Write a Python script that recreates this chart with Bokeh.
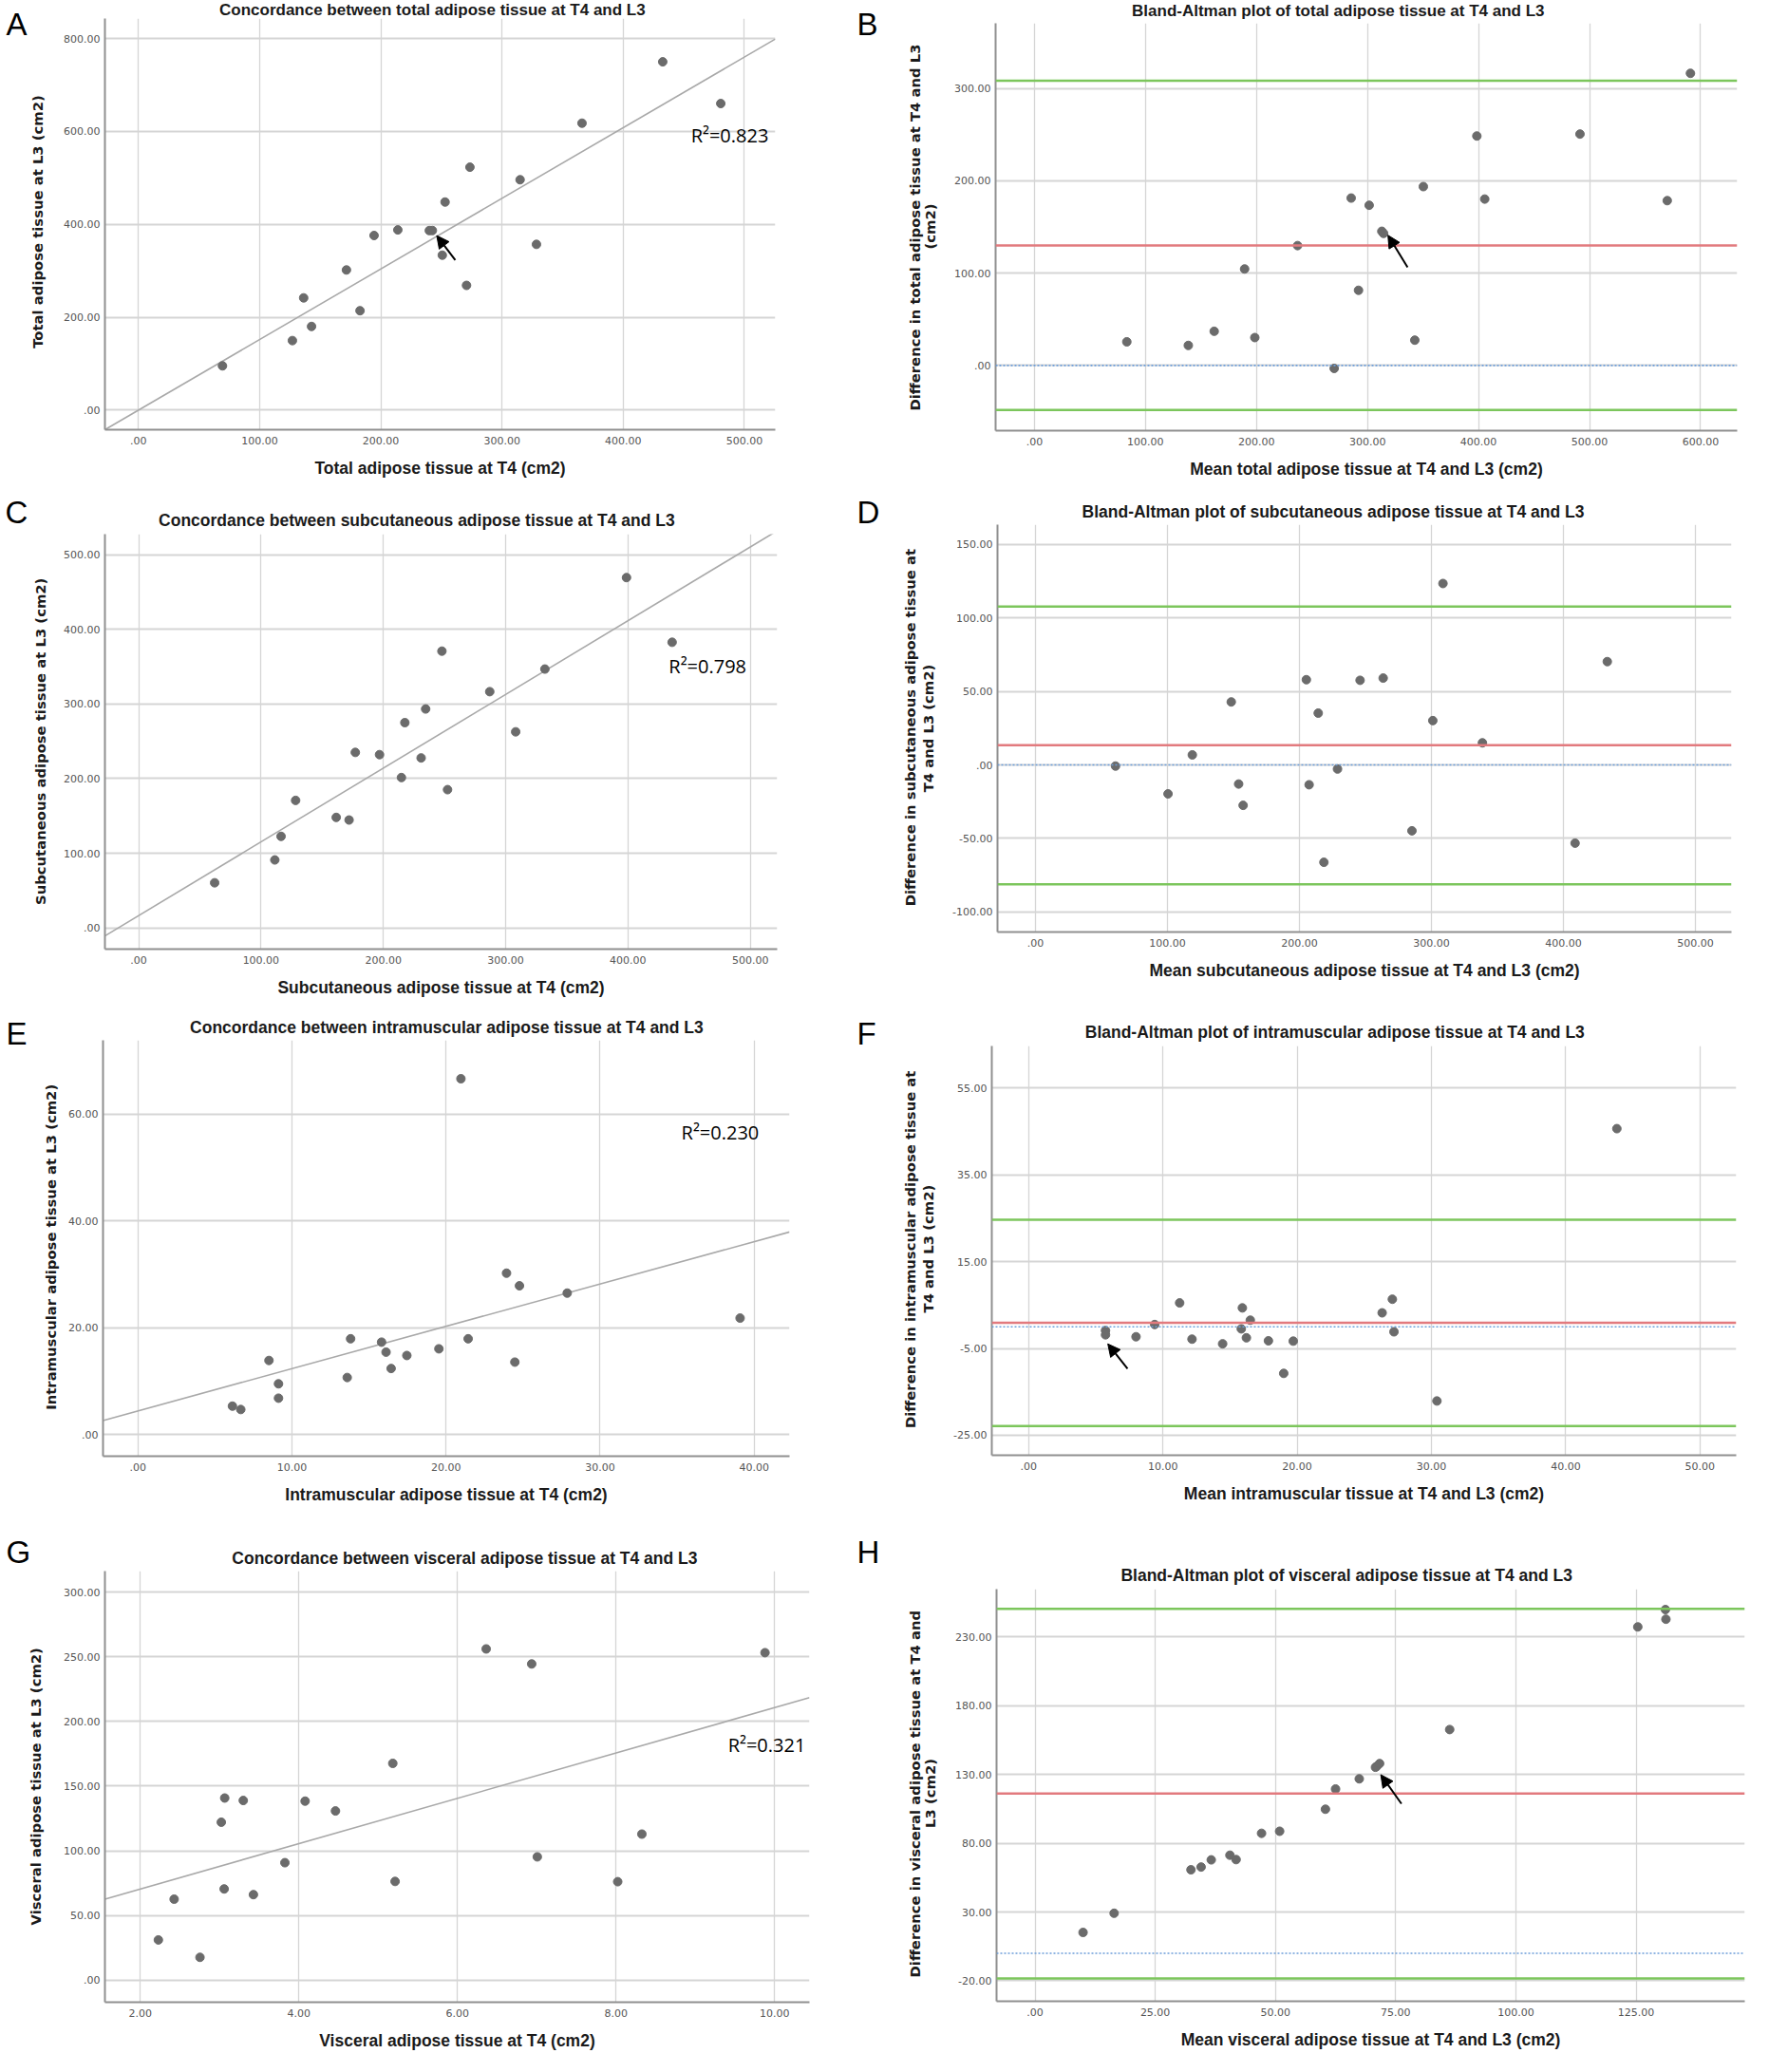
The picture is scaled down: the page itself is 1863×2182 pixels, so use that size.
import numpy as np
from bokeh.plotting import figure
from bokeh.layouts import column, row
from bokeh.models import Range1d, FixedTicker, Label, Span, Arrow, NormalHead
from bokeh.embed import file_html
from bokeh.resources import INLINE
from bokeh.core.properties import value

# ---------------- data ----------------
# A: total adipose tissue, T4 (x) vs L3 (y)
A_x = [69.3, 127.0, 136.3, 142.8, 171.6, 182.8, 194.4, 214.0, 240.0, 242.5, 250.7, 253.0, 270.7, 273.5, 314.9, 328.4, 366.0, 432.6, 480.5]
A_y = [95.4, 149.8, 241.7, 180.2, 301.8, 214.1, 376.0, 388.0, 386.6, 386.6, 333.6, 448.0, 268.6, 523.0, 496.0, 356.9, 617.7, 749.8, 660.0]
A_fit = [0.0, 1.52]            # intercept, slope
A_r2 = "R\u00b2=0.823"

# B: Bland-Altman total
B_mean = [83.2, 138.6, 161.9, 189.3, 198.5, 237.0, 270.0, 285.3, 291.9, 301.5, 312.9, 314.5, 342.6, 350.3, 398.5, 405.6, 491.4, 570.0, 590.9]
B_diff = [25.6, 21.7, 37.0, 104.5, 30.2, 129.8, -3.2, 181.3, 81.4, 173.5, 145.3, 143.0, 27.4, 193.7, 248.5, 180.2, 250.6, 178.5, 316.4]
B_lines = [130.0, 308.3, -48.3]   # bias, upper LoA, lower LoA

# C: subcutaneous
C_x = [62.1, 111.3, 116.4, 128.3, 161.5, 172.0, 177.1, 196.9, 214.8, 217.6, 230.9, 234.6, 247.9, 252.5, 287.0, 308.2, 332.1, 398.8, 436.1]
C_y = [60.4, 91.0, 122.6, 170.8, 148.0, 144.5, 235.1, 232.1, 201.4, 275.0, 227.7, 293.3, 370.8, 185.2, 316.5, 262.7, 346.8, 469.4, 382.7]
C_fit = [16.4, 0.988]
C_r2 = "R\u00b2=0.798"

# D: Bland-Altman subcutaneous
D_mean = [60.7, 100.5, 118.9, 148.4, 154.0, 157.4, 205.3, 207.4, 214.3, 218.6, 228.9, 246.0, 263.5, 285.3, 301.1, 308.8, 338.7, 408.9, 433.3]
D_diff = [-0.8, -19.7, 6.8, 42.8, -13.0, -27.5, 57.9, -13.5, 35.2, -66.2, -2.8, 57.5, 59.0, -44.8, 30.1, 123.3, 15.0, -53.2, 70.2]
D_lines = [13.4, 107.7, -81.1]

# E: intramuscular
E_x = [6.14, 6.68, 8.51, 9.13, 9.13, 13.59, 13.81, 15.82, 16.11, 16.44, 17.46, 19.54, 20.97, 21.44, 23.93, 24.47, 24.77, 27.87, 39.09]
E_y = [5.31, 4.68, 13.86, 9.49, 6.80, 10.67, 17.92, 17.29, 15.42, 12.36, 14.79, 16.04, 66.6, 17.92, 30.2, 13.55, 27.84, 26.47, 21.79]
E_fit = [4.41, 0.792]
E_r2 = "R\u00b2=0.230"

# F: Bland-Altman intramuscular
F_mean = [5.73, 5.73, 8.0, 9.39, 11.25, 12.17, 14.45, 15.84, 15.92, 16.22, 16.51, 17.86, 19.0, 19.71, 26.33, 27.09, 27.21, 30.41, 43.81]
F_diff = [-0.86, -1.85, -2.3, 0.52, 5.5, -2.85, -3.92, -0.48, 4.35, -2.54, 1.52, -3.23, -10.74, -3.31, 3.21, 6.35, -1.16, -17.1, 45.65]
F_lines = [0.9, 24.66, -22.85]

# G: visceral
G_x = [2.227, 2.426, 2.752, 3.021, 3.057, 3.064, 3.298, 3.426, 3.823, 4.078, 4.461, 5.184, 5.213, 6.362, 6.936, 7.007, 8.021, 8.326, 9.879]
G_y = [31.05, 62.6, 17.6, 122.1, 70.5, 140.8, 138.9, 66.1, 90.8, 138.4, 130.8, 167.6, 76.3, 256.1, 244.5, 95.3, 76.1, 112.9, 253.2]
G_fit = [35.4, 17.53]
G_r2 = "R\u00b2=0.321"

# H: Bland-Altman visceral
H_mean = [9.99, 16.45, 32.43, 34.54, 36.65, 40.53, 41.82, 47.11, 50.87, 60.39, 62.5, 67.43, 70.8, 71.08, 71.66, 86.23, 125.35, 131.1, 131.2]
H_diff = [15.15, 29.1, 60.7, 62.7, 67.9, 71.3, 68.1, 87.2, 88.7, 104.7, 119.4, 126.8, 135.2, 135.9, 137.9, 162.6, 237.2, 249.8, 242.8]
H_lines = [116.1, 250.3, -18.3]

# arrows (tail x, tail y, tip x, tip y) in data units
A_arrow = [261.4, 322.9, 246.1, 375.8]
B_arrow = [336.1, 106.3, 318.4, 141.1]
F_arrow = [7.37, -9.68, 5.9, -3.93]
H_arrow = [76.2, 108.7, 71.9, 129.8]

# ticks and tick labels
A_xt = [0, 100, 200, 300, 400, 500]; A_xl = [".00", "100.00", "200.00", "300.00", "400.00", "500.00"]
A_yt = [0, 200, 400, 600, 800]; A_yl = [".00", "200.00", "400.00", "600.00", "800.00"]
B_xt = [0, 100, 200, 300, 400, 500, 600]; B_xl = [".00", "100.00", "200.00", "300.00", "400.00", "500.00", "600.00"]
B_yt = [0, 100, 200, 300]; B_yl = [".00", "100.00", "200.00", "300.00"]
C_xt = [0, 100, 200, 300, 400, 500]; C_xl = [".00", "100.00", "200.00", "300.00", "400.00", "500.00"]
C_yt = [0, 100, 200, 300, 400, 500]; C_yl = [".00", "100.00", "200.00", "300.00", "400.00", "500.00"]
D_xt = [0, 100, 200, 300, 400, 500]; D_xl = [".00", "100.00", "200.00", "300.00", "400.00", "500.00"]
D_yt = [-100, -50, 0, 50, 100, 150]; D_yl = ["-100.00", "-50.00", ".00", "50.00", "100.00", "150.00"]
E_xt = [0, 10, 20, 30, 40]; E_xl = [".00", "10.00", "20.00", "30.00", "40.00"]
E_yt = [0, 20, 40, 60]; E_yl = [".00", "20.00", "40.00", "60.00"]
F_xt = [0, 10, 20, 30, 40, 50]; F_xl = [".00", "10.00", "20.00", "30.00", "40.00", "50.00"]
F_yt = [-25, -5, 15, 35, 55]; F_yl = ["-25.00", "-5.00", "15.00", "35.00", "55.00"]
G_xt = [2, 4, 6, 8, 10]; G_xl = ["2.00", "4.00", "6.00", "8.00", "10.00"]
G_yt = [0, 50, 100, 150, 200, 250, 300]; G_yl = [".00", "50.00", "100.00", "150.00", "200.00", "250.00", "300.00"]
H_xt = [0, 25, 50, 75, 100, 125]; H_xl = [".00", "25.00", "50.00", "75.00", "100.00", "125.00"]
H_yt = [-20, 30, 80, 130, 180, 230]; H_yl = ["-20.00", "30.00", "80.00", "130.00", "180.00", "230.00"]

# ---------------- styling ----------------
PT_COLOR = "#6b6b6b"
FIT_COLOR = "#a9a9a9"
RED = "#e27a7e"
GREEN = "#7cc65c"
BLUE = "#6d9fda"
GRID = "#d5d5d5"
AXIS = "#909090"
TITLE_FONT = "Liberation Sans"
YLAB_FONT = "DejaVu Sans"
TICK_FONT = "DejaVu Sans"
TXT = "#1a1a1a"

# page geometry (page px, reference coordinates)
ROWS = [(8, 510), (518, 550), (1068, 537), (1605, 569)]
TITLE_SIZES = ["17px", "17.5px", "17.5px", "17.5px"]
STRIP_L = (8, 64)      # x, width
MAIN_L = (72, 823)
STRIP_R = (895, 105)
MAIN_R = (1000, 855)


def bare_fig(W, H):
    f = figure(width=W, height=H, x_range=Range1d(0, W), y_range=Range1d(0, H), title=None,
               output_backend="svg", toolbar_location=None,
               min_border_left=0, min_border_right=0, min_border_top=0, min_border_bottom=0,
               x_axis_location=None, y_axis_location=None,
               outline_line_color=None, background_fill_color="white", border_fill_color="white")
    f.grid.visible = False
    return f


def make_header(fig_x, fig_y, W, hh, title, tcenter, size):
    h = bare_fig(W, hh)
    h.text(x=[tcenter[0] - fig_x], y=[hh - (tcenter[1] - fig_y)], text=[title],
           text_font=value(TITLE_FONT), text_font_size=value(size), text_font_style="bold",
           text_align="center", text_baseline="middle", text_color=TXT)
    return h


def make_strip(fig_x, fig_y, W, H, letter, letter_pos, ylabs, ylpos):
    s = bare_fig(W, H)
    s.text(x=[letter_pos[0] - fig_x], y=[H - (letter_pos[1] - fig_y)], text=[letter],
           text_font=value("Liberation Sans"), text_font_size=value("33px"),
           text_align="left", text_baseline="alphabetic", text_color="black")
    for txt, (px, py) in zip(ylabs, ylpos):
        s.text(x=[px - fig_x], y=[H - (py - fig_y)], text=[txt], angle=np.pi / 2,
               text_font=value(YLAB_FONT), text_font_size=value("14.8px"), text_font_style="bold",
               text_align="center", text_baseline="middle", text_color=TXT)
    return s


def make_panel(fig_x, fig_y, W, H, frame, xr, yr, xt, xl, yt, yl, xlab):
    fl, ft, fr, fb = frame
    bl = int(round(fl - fig_x)); bt = max(0, int(round(ft - fig_y)))
    br = int(round(fig_x + W - fr)); bb = int(round(fig_y + H - fb))
    p = figure(width=W, height=H, x_range=Range1d(*xr), y_range=Range1d(*yr), title=None,
               output_backend="svg", toolbar_location=None,
               min_border_left=bl, min_border_right=br, min_border_top=bt, min_border_bottom=bb,
               outline_line_color=None, background_fill_color="white", border_fill_color="white")
    xtick = FixedTicker(ticks=xt); ytick = FixedTicker(ticks=yt)
    p.xaxis.ticker = xtick; p.yaxis.ticker = ytick
    p.xgrid.ticker = xtick; p.ygrid.ticker = ytick
    p.xaxis.major_label_overrides = dict(zip(xt, xl))
    p.yaxis.major_label_overrides = dict(zip(yt, yl))
    for ax in (p.xaxis, p.yaxis):
        ax.axis_line_color = AXIS
        ax.axis_line_width = 2
        ax.major_tick_line_color = None
        ax.minor_tick_line_color = None
        ax.major_tick_out = 0
        ax.major_tick_in = 0
        ax.major_label_text_font = TICK_FONT
        ax.major_label_text_font_size = "11px"
        ax.major_label_text_color = "#555555"
    p.xaxis.major_label_standoff = 7
    p.yaxis.major_label_standoff = 5
    p.xaxis.axis_label = xlab
    p.xaxis.axis_label_text_font = TITLE_FONT
    p.xaxis.axis_label_text_font_size = "17.5px"
    p.xaxis.axis_label_text_font_style = "bold"
    p.xaxis.axis_label_text_color = TXT
    p.xaxis.axis_label_standoff = 12
    p.xgrid.grid_line_color = GRID
    p.xgrid.grid_line_width = 1.3
    p.ygrid.grid_line_color = GRID
    p.ygrid.grid_line_width = 2
    return p


def add_arrow(p, arr):
    p.add_layout(Arrow(end=NormalHead(size=13, fill_color="black", line_color="black", line_width=1),
                       x_start=arr[0], y_start=arr[1], x_end=arr[2], y_end=arr[3],
                       line_color="black", line_width=2))


def panel_column(r, main, frame, title, tcenter, xr, yr, xt, xl, yt, yl, xlab):
    row_top, row_h = ROWS[r]
    hh = int(frame[1] - row_top)
    head = make_header(main[0], row_top, main[1], hh, title, tcenter, TITLE_SIZES[r])
    p = make_panel(main[0], row_top + hh, main[1], row_h - hh, frame, xr, yr, xt, xl, yt, yl, xlab)
    return head, p


def scatter_panel(r, frame, xr, yr, xt, xl, yt, yl, xs, ys, fit, r2, r2pos,
                  title, tcenter, xlab, arrow=None):
    head, p = panel_column(r, MAIN_L, frame, title, tcenter, xr, yr, xt, xl, yt, yl, xlab)
    fl, ft, fr, fb = frame
    fx = [xr[0], xr[1]]
    fy = [fit[0] + fit[1] * v for v in fx]
    p.line(fx, fy, line_color=FIT_COLOR, line_width=1.6)
    p.scatter(xs, ys, size=9, fill_color=PT_COLOR, line_color=PT_COLOR)
    rx = xr[0] + (r2pos[0] - fl) / (fr - fl) * (xr[1] - xr[0])
    ry = yr[0] + (fb - r2pos[1]) / (fb - ft) * (yr[1] - yr[0])
    p.add_layout(Label(x=rx, y=ry, text=r2, text_font="Open Sans", text_font_size="20px",
                       text_align="left", text_baseline="middle", text_color="black"))
    if arrow is not None:
        add_arrow(p, arrow)
    return column(head, p)


def ba_panel(r, frame, xr, yr, xt, xl, yt, yl, xs, ys, lines, title, tcenter, xlab, arrow=None):
    head, p = panel_column(r, MAIN_R, frame, title, tcenter, xr, yr, xt, xl, yt, yl, xlab)
    p.add_layout(Span(location=0, dimension="width", line_color=BLUE, line_width=1.6, line_dash="2 2"))
    p.add_layout(Span(location=lines[0], dimension="width", line_color=RED, line_width=2.5))
    p.add_layout(Span(location=lines[1], dimension="width", line_color=GREEN, line_width=2.5))
    p.add_layout(Span(location=lines[2], dimension="width", line_color=GREEN, line_width=2.5))
    p.scatter(xs, ys, size=9, fill_color=PT_COLOR, line_color=PT_COLOR)
    if arrow is not None:
        add_arrow(p, arrow)
    return column(head, p)


# ---- row 1 ----
sA = make_strip(STRIP_L[0], ROWS[0][0], STRIP_L[1], ROWS[0][1], "A", (14, 33),
                ["Total adipose tissue at L3 (cm2)"], [(47, 241)])
pA = scatter_panel(0, (117, 27, 824, 459.5), (-27.7, 525.5), (-42, 843),
                   A_xt, A_xl, A_yt, A_yl, A_x, A_y, A_fit, A_r2, (735, 150),
                   "Concordance between total adipose tissue at T4 and L3", (474, 17.5),
                   "Total adipose tissue at T4 (cm2)", A_arrow)
sB = make_strip(STRIP_R[0], ROWS[0][0], STRIP_R[1], ROWS[0][1], "B", (910, 33),
                ["Difference in total adipose tissue at T4 and L3", "(cm2)"], [(970.5, 247), (986.5, 246)])
pB = ba_panel(0, (1056, 31.7, 1837, 461), (-35, 633), (-70.6, 370.6),
              B_xt, B_xl, B_yt, B_yl, B_mean, B_diff, B_lines,
              "Bland-Altman plot of total adipose tissue at T4 and L3", (1395, 19),
              "Mean total adipose tissue at T4 and L3 (cm2)", B_arrow)

# ---- row 2 ----
sC = make_strip(STRIP_L[0], ROWS[1][0], STRIP_L[1], ROWS[1][1], "C", (13, 547),
                ["Subcutaneous adipose tissue at L3 (cm2)"], [(50, 788.3)])
pC = scatter_panel(1, (117.4, 569.6, 826, 1007), (-27.6, 522), (-28.5, 527.6),
                   C_xt, C_xl, C_yt, C_yl, C_x, C_y, C_fit, C_r2, (711.7, 709),
                   "Concordance between subcutaneous adipose tissue at T4 and L3", (453.7, 555.8),
                   "Subcutaneous adipose tissue at T4 (cm2)")
sD = make_strip(STRIP_R[0], ROWS[1][0], STRIP_R[1], ROWS[1][1], "D", (910, 547),
                ["Difference in subcutaneous adipose tissue at", "T4 and L3 (cm2)"],
                [(965.7, 773.6), (984.7, 774.5)])
pD = ba_panel(1, (1058, 560.3, 1831, 989), (-28.7, 527.4), (-113.6, 163.3),
              D_xt, D_xl, D_yt, D_yl, D_mean, D_diff, D_lines,
              "Bland-Altman plot of subcutaneous adipose tissue at T4 and L3", (1391, 546.5),
              "Mean subcutaneous adipose tissue at T4 and L3 (cm2)")

# ---- row 3 ----
sE = make_strip(STRIP_L[0], ROWS[2][0], STRIP_L[1], ROWS[2][1], "E", (14, 1096),
                ["Intramuscular adipose tissue at L3 (cm2)"], [(61.3, 1320.8)])
pE = scatter_panel(2, (115.7, 1103.3, 839, 1540.8), (-2.26, 42.3), (-4.06, 73.8),
                   E_xt, E_xl, E_yt, E_yl, E_x, E_y, E_fit, E_r2, (725, 1199.8),
                   "Concordance between intramuscular adipose tissue at T4 and L3", (484, 1089.3),
                   "Intramuscular adipose tissue at T4 (cm2)")
sF = make_strip(STRIP_R[0], ROWS[2][0], STRIP_R[1], ROWS[2][1], "F", (910, 1096),
                ["Difference in intramuscular adipose tissue at", "T4 and L3 (cm2)"],
                [(965.7, 1323.3), (984.7, 1322.6)])
pF = ba_panel(2, (1052, 1108.6, 1835.6, 1540), (-2.74, 52.7), (-29.6, 64.7),
              F_xt, F_xl, F_yt, F_yl, F_mean, F_diff, F_lines,
              "Bland-Altman plot of intramuscular adipose tissue at T4 and L3", (1394, 1094.6),
              "Mean intramuscular tissue at T4 and L3 (cm2)", F_arrow)

# ---- row 4 ----
sG = make_strip(STRIP_L[0], ROWS[3][0], STRIP_L[1], ROWS[3][1], "G", (14, 1641.5),
                ["Visceral adipose tissue at L3 (cm2)"], [(44.5, 1888.8)])
pG = scatter_panel(3, (116.8, 1662.3, 860, 2116.4), (1.553, 10.44), (-17.1, 316.3),
                   G_xt, G_xl, G_yt, G_yl, G_x, G_y, G_fit, G_r2, (774, 1845.8),
                   "Concordance between visceral adipose tissue at T4 and L3", (492.3, 1648),
                   "Visceral adipose tissue at T4 (cm2)")
sH = make_strip(STRIP_R[0], ROWS[3][0], STRIP_R[1], ROWS[3][1], "H", (910, 1641.5),
                ["Difference in visceral adipose tissue at T4 and", "L3 (cm2)"],
                [(970.5, 1896.7), (986.5, 1896)])
pH = ba_panel(3, (1056.7, 1681, 1844.5, 2114.6), (-8.0, 147.6), (-34.85, 264.65),
              H_xt, H_xl, H_yt, H_yl, H_mean, H_diff, H_lines,
              "Bland-Altman plot of visceral adipose tissue at T4 and L3", (1400, 1666.6),
              "Mean visceral adipose tissue at T4 and L3 (cm2)", H_arrow)

layout = column(row(sA, pA, sB, pB), row(sC, pC, sD, pD), row(sE, pE, sF, pF), row(sG, pG, sH, pH))
open("out.html", "w").write(file_html(layout, INLINE))
